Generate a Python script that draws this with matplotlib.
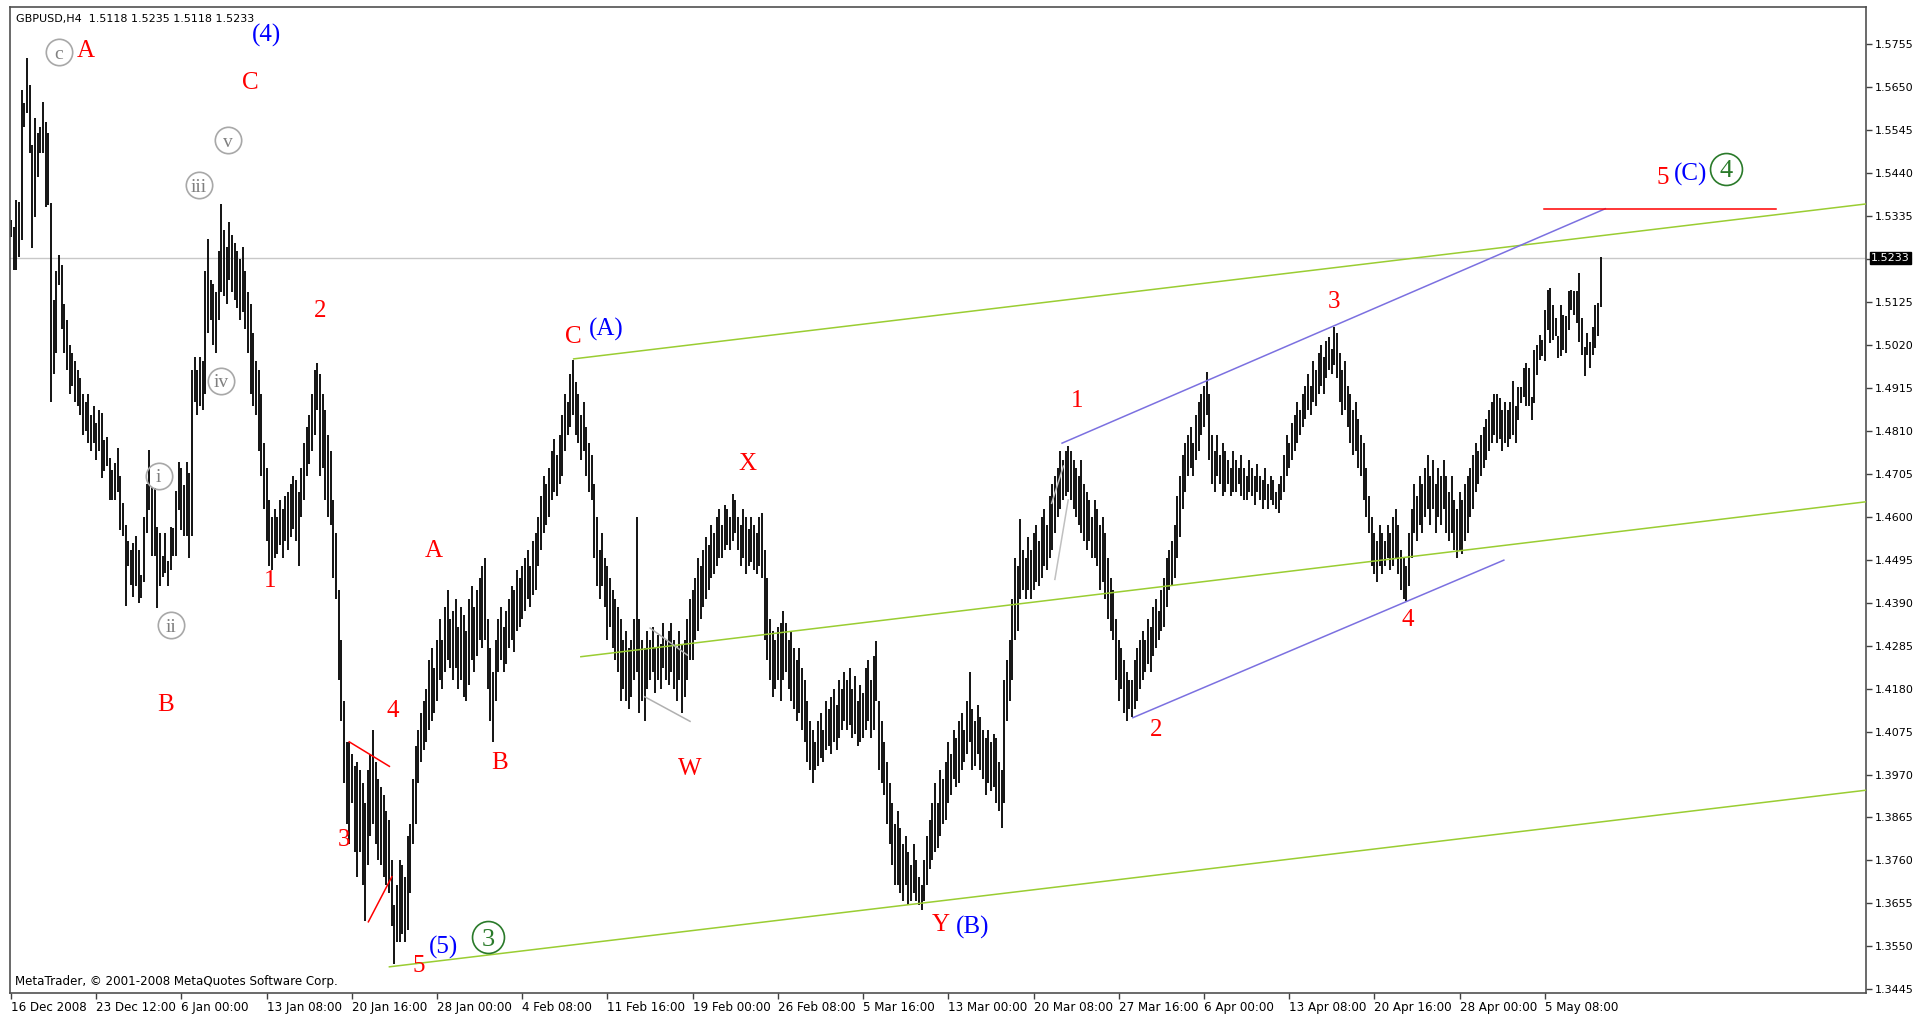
import numpy as np
import matplotlib.pyplot as plt
from matplotlib.transforms import blended_transform_factory

W, H = 1914, 1014

# H4 bars, price * 10000 (one value per bar)
highs = [
    15325, 15308, 15374, 15369, 15643, 15611, 15721, 15655, 15509, 15575,
    15538, 15552, 15614, 15565, 15538, 15367, 15130, 15200, 15240, 15215,
    15120, 15080, 15020, 15000, 14980, 14960, 14940, 14900, 14880, 14900,
    14850, 14870, 14830, 14860, 14853, 14788, 14796, 14743, 14715, 14731,
    14768, 14699, 14633, 14580, 14540, 14519, 14536, 14552, 14519, 14458,
    14600, 14680, 14764, 14674, 14670, 14576, 14560, 14503, 14560, 14491,
    14576, 14572, 14662, 14735, 14719, 14678, 14735, 14707, 14960, 14990,
    14960, 14990, 14980, 15200, 15280, 15180, 15170, 15150, 15250, 15365,
    15300, 15260, 15320, 15290, 15270, 15250, 15230, 15260, 15200, 15150,
    15120, 15050, 14980, 14960, 14900, 14780, 14720, 14640, 14600, 14620,
    14600, 14640, 14620, 14650, 14660, 14680, 14700, 14690, 14660, 14720,
    14780, 14820, 14850, 14900, 14960, 14977, 14950, 14900, 14860, 14800,
    14760, 14640, 14560, 14420, 14300, 14150, 14050, 14050, 14020, 13990,
    14000, 13980, 13950, 13900, 13980, 14020, 14079, 14000, 13960, 13940,
    13920, 13880, 13860, 13760, 13650, 13700, 13760, 13750, 13720, 13820,
    13850, 13960, 14040, 14080, 14120, 14150, 14180, 14250, 14280, 14230,
    14300, 14350, 14300, 14380, 14420, 14350, 14370, 14400, 14330, 14380,
    14360, 14320, 14400, 14430, 14380, 14420, 14450, 14480, 14500, 14350,
    14280, 14220, 14300, 14350, 14380, 14330, 14370, 14400, 14430, 14420,
    14470, 14450, 14480, 14500, 14520, 14480, 14540, 14560, 14600, 14650,
    14700, 14680, 14720, 14760, 14790, 14750, 14800, 14850, 14900, 14880,
    14950, 14983, 14930, 14900, 14850, 14880, 14820, 14780, 14750, 14680,
    14600, 14520, 14560, 14500, 14480, 14450, 14420, 14400, 14380, 14350,
    14300, 14320, 14280, 14300, 14350, 14600, 14350, 14300, 14280, 14320,
    14300, 14330, 14280, 14310, 14290, 14340, 14300, 14320, 14340, 14300,
    14280, 14320, 14290, 14300, 14350, 14400, 14420, 14450, 14500, 14480,
    14520, 14550, 14530, 14580, 14560, 14600, 14620, 14580, 14630, 14620,
    14600, 14655, 14640, 14600, 14580, 14620, 14600, 14570, 14600, 14580,
    14560, 14600, 14610, 14520, 14450, 14350, 14320, 14300, 14330, 14340,
    14370, 14340, 14300, 14320, 14280, 14250, 14280, 14230, 14200, 14150,
    14100, 14080, 14050, 14100, 14120, 14080, 14150, 14130, 14160, 14180,
    14140, 14200, 14180, 14220, 14200, 14230, 14180, 14210, 14150, 14190,
    14170, 14230, 14250, 14200, 14260, 14296, 14150, 14100, 14050, 14000,
    13950, 13900, 13850, 13880, 13840, 13800, 13820, 13780, 13750, 13800,
    13760, 13720, 13700, 13760, 13820, 13860, 13900, 13950, 13900, 13980,
    13960, 14000, 14050, 14020, 14080, 14060, 14100, 14120, 14080, 14150,
    14220, 14130, 14100, 14140, 14110, 14080, 14060, 14080, 14050, 14070,
    14060, 14000, 13980, 14200, 14250, 14300, 14400, 14500, 14480, 14595,
    14520, 14500, 14550, 14520, 14560, 14580, 14540, 14600, 14620, 14580,
    14650, 14680, 14700, 14720, 14760, 14740, 14760, 14774, 14760, 14740,
    14720, 14700, 14740, 14680, 14660, 14640, 14600, 14640, 14620, 14580,
    14600, 14560, 14500, 14450, 14420, 14350, 14300, 14280, 14250, 14220,
    14200, 14200, 14250, 14280, 14300, 14320, 14300, 14350, 14330, 14380,
    14400, 14370, 14420, 14450, 14500, 14520, 14540, 14580, 14650, 14700,
    14750, 14780, 14800, 14820, 14780, 14850, 14880, 14900, 14920, 14953,
    14900, 14800, 14760, 14800, 14750, 14780, 14760, 14740, 14720, 14760,
    14740, 14720, 14750, 14720, 14700, 14740, 14720, 14700, 14730, 14700,
    14690, 14720, 14680, 14700, 14690, 14660, 14680, 14700, 14750, 14800,
    14780, 14830, 14850, 14880, 14860, 14900, 14920, 14950, 14920, 14980,
    14960, 15000, 15020, 14990, 15030, 15040, 15010, 15063, 15050, 15000,
    14960, 14980, 14920, 14900, 14860, 14880, 14840, 14800, 14780, 14720,
    14650, 14600, 14560, 14540, 14580, 14560, 14540, 14580, 14560, 14600,
    14620, 14580, 14520, 14500, 14480, 14560, 14620, 14680, 14650, 14700,
    14680, 14720, 14750, 14700, 14740, 14680, 14720, 14700, 14740, 14700,
    14660, 14700, 14640, 14620, 14660, 14640, 14680, 14700, 14720, 14750,
    14780, 14760, 14800, 14820, 14840, 14860, 14880, 14900, 14900, 14890,
    14860, 14880, 14860, 14880, 14931, 14870, 14918, 14918, 14963, 14975,
    14963, 14894, 15008, 15020, 15045, 15032, 15106, 15155, 15159, 15118,
    15085, 15041, 15118, 15094, 15090, 15151, 15155, 15151, 15151, 15195,
    15085, 15016, 15049, 15028, 15065, 15118, 15122, 15235,
]
lows = [
    15284, 15204, 15204, 15235, 15276, 15552, 15586, 15489, 15256, 15332,
    15431, 15489, 15489, 15357, 15362, 14880, 14950, 15000, 15166, 15060,
    15000, 14960, 14900, 14920, 14880, 14870, 14850, 14800, 14810, 14780,
    14760, 14780, 14740, 14760, 14695, 14711, 14723, 14642, 14642, 14642,
    14660, 14568, 14552, 14381, 14479, 14434, 14405, 14430, 14389, 14401,
    14440, 14560, 14617, 14503, 14503, 14377, 14430, 14454, 14462, 14430,
    14470, 14503, 14503, 14617, 14568, 14552, 14552, 14499, 14552, 14880,
    14850, 14870, 14860, 14900, 15050, 15080, 15020, 15000, 15080, 15150,
    15140, 15120, 15180, 15150, 15130, 15110, 15080, 15100, 15060, 15000,
    14900, 14870, 14850, 14760, 14700, 14620, 14540, 14480, 14470, 14500,
    14510, 14530, 14500, 14540, 14520, 14550, 14570, 14540, 14480, 14600,
    14640, 14700, 14730, 14760, 14800, 14860, 14700, 14720, 14640, 14600,
    14580, 14450, 14400, 14200, 14100, 13950, 13850, 13800, 13900, 13780,
    13720, 13780, 13700, 13613, 13750, 13820, 13850, 13800, 13760, 13750,
    13720, 13700, 13680, 13600, 13506, 13560, 13560, 13580, 13560, 13590,
    13680, 13800, 13850, 13950, 14000, 14030, 14050, 14080, 14100, 14120,
    14150, 14200, 14180, 14220, 14250, 14230, 14200, 14230, 14180, 14200,
    14160, 14150, 14190, 14250, 14220, 14260, 14300, 14280, 14300, 14180,
    14100, 14050, 14150, 14220, 14250, 14220, 14240, 14280, 14300, 14270,
    14320, 14330, 14350, 14370, 14400, 14380, 14410, 14420, 14480, 14520,
    14560, 14580, 14600, 14640, 14660, 14650, 14680, 14700, 14760, 14800,
    14820, 14850, 14800, 14780, 14740, 14760, 14700, 14660, 14640, 14500,
    14430, 14400, 14430, 14380, 14300, 14330, 14280, 14250, 14220, 14150,
    14180, 14150, 14130, 14160, 14200, 14220, 14120, 14150, 14100, 14180,
    14200, 14220, 14170, 14200, 14180, 14230, 14200, 14190, 14220, 14180,
    14150, 14200, 14120, 14160, 14200, 14250, 14250, 14300, 14320, 14350,
    14380, 14400, 14420, 14450, 14460, 14480, 14500, 14500, 14520, 14530,
    14520, 14540, 14560, 14520, 14480, 14500, 14460, 14480, 14490, 14470,
    14460, 14480, 14450, 14300, 14250, 14200, 14160, 14180, 14200, 14150,
    14200, 14220, 14180, 14150, 14130, 14100, 14120, 14080, 14050, 14000,
    13980, 13950, 13980, 13990, 14010, 14000, 14030, 14040, 14020, 14050,
    14030, 14060, 14080, 14100, 14080, 14090, 14060, 14070, 14040, 14050,
    14060, 14080, 14100, 14060, 14080, 14150, 13980, 13950, 13920, 13850,
    13800, 13750, 13700, 13700, 13680, 13660, 13700, 13650, 13660, 13680,
    13660, 13650, 13640, 13660, 13700, 13740, 13760, 13780, 13790, 13820,
    13850, 13860, 13900, 13920, 13960, 13940, 13950, 13980, 14000, 14020,
    14050, 13980, 13990, 14020, 13980, 13960, 13920, 13950, 13930, 13940,
    13900, 13880, 13840, 13900, 14100, 14150, 14200, 14300, 14320, 14400,
    14420, 14400, 14420, 14400, 14420, 14440, 14430, 14450, 14480, 14470,
    14500, 14520, 14560, 14600, 14620, 14640, 14650, 14660, 14640, 14620,
    14600, 14580, 14560, 14540, 14520, 14540, 14500, 14500, 14480, 14420,
    14440, 14400, 14350, 14320, 14300, 14200, 14150, 14180, 14120, 14100,
    14130, 14110, 14130, 14150, 14180, 14200, 14220, 14240, 14220, 14260,
    14280, 14300, 14320, 14330, 14380, 14420, 14430, 14450, 14500, 14550,
    14620, 14660, 14700, 14720, 14700, 14740, 14760, 14800, 14820, 14850,
    14740, 14680, 14660, 14700, 14680, 14650, 14660, 14680, 14650, 14660,
    14660, 14680, 14650, 14640, 14640, 14660, 14650, 14630, 14660, 14640,
    14620, 14640, 14620, 14640, 14630, 14620, 14610, 14640, 14660, 14700,
    14720, 14740, 14760, 14780, 14800, 14820, 14840, 14860, 14850, 14880,
    14870, 14900, 14920, 14900, 14940, 14960, 14950, 14970, 14940, 14880,
    14850, 14860, 14820, 14780, 14750, 14760, 14720, 14700, 14640, 14600,
    14560, 14480, 14460, 14440, 14480, 14460, 14480, 14500, 14470, 14480,
    14500, 14460, 14420, 14400, 14395, 14430, 14500, 14560, 14540, 14580,
    14560, 14600, 14620, 14580, 14620, 14560, 14600, 14580, 14620, 14560,
    14540, 14560, 14520, 14500, 14520, 14510, 14540, 14560, 14600, 14620,
    14660, 14680, 14700, 14720, 14740, 14760, 14780, 14800, 14780, 14790,
    14760, 14780, 14770, 14790, 14800, 14780, 14837, 14878, 14894, 14870,
    14870, 14837, 14878, 14947, 14984, 14992, 14980, 15057, 15024, 15032,
    15041, 14988, 14992, 15008, 15000, 15057, 15106, 15094, 15073, 15028,
    14996, 14943, 14996, 14963, 14996, 15012, 15041, 15114,
]
assert len(highs) == len(lows)

date_labels = ['16 Dec 2008', '23 Dec 12:00', '6 Jan 00:00', '13 Jan 08:00',
               '20 Jan 16:00', '28 Jan 00:00', '4 Feb 08:00', '11 Feb 16:00',
               '19 Feb 00:00', '26 Feb 08:00', '5 Mar 16:00', '13 Mar 00:00',
               '20 Mar 08:00', '27 Mar 16:00', '6 Apr 00:00', '13 Apr 08:00',
               '20 Apr 16:00', '28 Apr 00:00', '5 May 08:00']
bars_per_label = 32
price_ticks = [1.3445 + 0.0105 * k for k in range(23)]
last_price = 1.5233

# trend lines: (bar0, price0, bar1, price1, colour)
trend_lines = [
    (211.3, 1.4986, 697.0, 1.5365, '#9acd32'),
    (214.0, 1.4258, 697.0, 1.4637, '#9acd32'),
    (142.1, 1.3500, 697.0, 1.3932, '#9acd32'),
    (394.7, 1.4780, 598.7, 1.5353, '#7b70e0'),
    (421.3, 1.4109, 560.6, 1.4494, '#7b70e0'),
    (575.7, 1.5353, 662.8, 1.5353, '#ff0000'),
    (127.0, 1.4050, 142.1, 1.3990, '#ff0000'),
    (134.2, 1.3610, 143.0, 1.3720, '#ff0000'),
    (240.0, 1.4328, 254.0, 1.4262, '#b0b0b0'),
    (238.0, 1.4160, 255.0, 1.4100, '#b0b0b0'),
    (390.8, 1.4633, 395.2, 1.4724, '#c0c0c0'),
    (392.0, 1.4447, 397.0, 1.4641, '#c0c0c0'),
]

# wave labels: text, bar, price, colour
wave_labels = [
    ('A', 28.0, 1.5738, 'red'), ('C', 89.8, 1.5660, 'red'),
    ('2', 116.0, 1.5102, 'red'), ('1', 97.2, 1.4443, 'red'),
    ('B', 58.2, 1.4141, 'red'), ('A', 158.6, 1.4517, 'red'),
    ('4', 143.5, 1.4126, 'red'), ('B', 183.4, 1.3998, 'red'),
    ('3', 125.1, 1.3810, 'red'), ('5', 153.1, 1.3503, 'red'),
    ('C', 211.3, 1.5040, 'red'), ('X', 276.4, 1.4729, 'red'),
    ('W', 254.9, 1.3983, 'red'), ('Y', 349.3, 1.3601, 'red'),
    ('1', 400.2, 1.4884, 'red'), ('2', 430.0, 1.4079, 'red'),
    ('3', 496.9, 1.5126, 'red'), ('4', 524.4, 1.4347, 'red'),
    ('5', 620.2, 1.5428, 'red'),
    ('(4)', 95.8, 1.5776, 'blue'), ('(A)', 223.7, 1.5058, 'blue'),
    ('(5)', 162.3, 1.3548, 'blue'), ('(B)', 361.2, 1.3595, 'blue'),
    ('(C)', 630.8, 1.5437, 'blue'),
]
minor_circled = [('c', 17.9, 1.5735), ('v', 81.6, 1.5520), ('iii', 70.6, 1.5410),
                 ('iv', 78.8, 1.4932), ('i', 55.5, 1.4700), ('ii', 60.0, 1.4335)]
major_circled = [('3', 179.2, 1.3572), ('4', 644.1, 1.5451)]

fig = plt.figure(figsize=(W / 100, H / 100), dpi=100)
ax = fig.add_axes([10 / W, (H - 993) / H, (1866 - 10) / W, (993 - 7) / H])

x = np.arange(len(highs))
ax.axhline(last_price, color='#c8c8c8', lw=1, zorder=1)
ax.vlines(x, np.array(lows) / 1e4, np.array(highs) / 1e4, color='black', lw=1.3, zorder=2)

for x0, y0, x1, y1, c in trend_lines:
    ax.plot([x0, x1], [y0, y1], color=c, lw=1.1, zorder=3)

serif = 'Liberation Serif'
for t, xi, yi, c in wave_labels:
    ax.text(xi, yi, t, color={'red': '#ff0000', 'blue': '#0000ff'}[c], fontsize=18,
            family=serif, ha='center', va='center', zorder=5)
for t, xi, yi in minor_circled:
    ax.plot(xi, yi, 'o', ms=19, mfc='none', mec='#a8a8a8', mew=1.2, zorder=5)
    ax.text(xi, yi, t, color='#808080', fontsize=14, family=serif, ha='center',
            va='center_baseline', zorder=5)
for t, xi, yi in major_circled:
    ax.plot(xi, yi, 'o', ms=23, mfc='none', mec='#2a7a2a', mew=1.2, zorder=5)
    ax.text(xi, yi, t, color='#2a7a2a', fontsize=19, family=serif, ha='center',
            va='center_baseline', zorder=5)

ax.set_xlim(-0.375, 696.6)
ax.set_ylim(1.34360, 1.58461)

ax.set_xticks(np.arange(len(date_labels)) * bars_per_label)
ax.set_xticklabels(date_labels, ha='left', fontsize=8.6)
ax.yaxis.tick_right()
ax.set_yticks(price_ticks)
ax.set_yticklabels([f'{p:.4f}' for p in price_ticks])
ax.tick_params(axis='both', length=4, width=1, color='#404040', labelsize=8, pad=2)
ax.tick_params(axis='x', labelsize=8.6)
for s in ax.spines.values():
    s.set_color('#505050')
    s.set_linewidth(1.2)

tr = blended_transform_factory(ax.transAxes, ax.transData)
ax.text(1.0025, last_price, f'{last_price:.4f}', transform=tr, ha='left', va='center',
        fontsize=8, color='white', zorder=6,
        bbox=dict(boxstyle='square,pad=0.1', fc='black', ec='black'))

fig.text(16 / W, 1 - 19 / H, 'GBPUSD,H4  1.5118 1.5235 1.5118 1.5233', fontsize=8,
         ha='left', va='center')
fig.text(15 / W, 1 - 981 / H, 'MetaTrader, © 2001-2008 MetaQuotes Software Corp.',
         fontsize=8.6, ha='left', va='center')

fig.savefig('out.png', dpi=100, facecolor='white')
